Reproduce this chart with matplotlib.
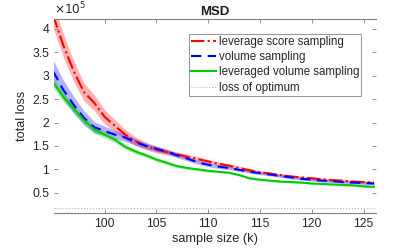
import numpy as np
import matplotlib
matplotlib.use("Agg")
import matplotlib.pyplot as plt

plt.rcParams['font.family'] = ['Liberation Sans', 'DejaVu Sans']

# sample size (k)
k = list(range(95, 127))
# total loss, in units of 1e5
lev_mean = [4.30, 3.65, 3.10, 2.65, 2.42, 2.12, 1.93, 1.74, 1.60, 1.50, 1.42, 1.37, 1.32, 1.27,
            1.22, 1.17, 1.12, 1.08, 1.03, 0.98, 0.94, 0.91, 0.88, 0.85, 0.83, 0.81, 0.79, 0.77,
            0.76, 0.74, 0.73, 0.72]
lev_sd = [0.26, 0.25, 0.22, 0.19, 0.17, 0.15, 0.13, 0.11, 0.09, 0.08, 0.07, 0.06, 0.05, 0.05,
          0.05, 0.04, 0.04, 0.04, 0.04, 0.04, 0.03, 0.03, 0.03, 0.03, 0.03, 0.03, 0.03, 0.03,
          0.03, 0.03, 0.03, 0.03]
vol_mean = [3.10, 2.70, 2.38, 2.10, 1.90, 1.82, 1.74, 1.68, 1.58, 1.50, 1.44, 1.38, 1.30, 1.23,
            1.15, 1.10, 1.06, 1.03, 0.99, 0.95, 0.92, 0.89, 0.86, 0.83, 0.80, 0.78, 0.76, 0.75,
            0.73, 0.72, 0.71, 0.70]
vol_sd = [0.24, 0.21, 0.18, 0.15, 0.12, 0.10, 0.09, 0.08, 0.07, 0.06, 0.06, 0.05, 0.05, 0.05,
          0.04, 0.04, 0.04, 0.04, 0.03, 0.03, 0.03, 0.03, 0.03, 0.03, 0.03, 0.03, 0.03, 0.03,
          0.03, 0.03, 0.03, 0.03]
lvs_mean = [2.86, 2.55, 2.30, 2.05, 1.85, 1.74, 1.63, 1.48, 1.38, 1.30, 1.21, 1.14, 1.07, 1.03,
            1.00, 0.97, 0.95, 0.93, 0.88, 0.81, 0.78, 0.76, 0.74, 0.73, 0.72, 0.70, 0.69, 0.68,
            0.67, 0.66, 0.64, 0.63]
lvs_sd = [0.11, 0.10, 0.09, 0.08, 0.08, 0.07, 0.06, 0.05, 0.05, 0.04, 0.04, 0.04, 0.03, 0.03,
          0.03, 0.03, 0.02, 0.02, 0.02, 0.02, 0.02, 0.02, 0.02, 0.02, 0.02, 0.02, 0.02, 0.02,
          0.02, 0.02, 0.02, 0.02]
optimum = 0.18

series_labels = ["leverage score sampling", "volume sampling",
                 "leveraged volume sampling", "loss of optimum"]
y_ticks = [0.5, 1, 1.5, 2, 2.5, 3, 3.5, 4]
x_ticks = [100, 105, 110, 115, 120, 125]

fig = plt.figure(figsize=(4.15, 2.49), dpi=100)
ax = fig.add_axes([0.130, 0.1446, 0.776, 0.779])

x = np.array(k)
def band(m, s, col):
    m = np.array(m); s = np.array(s)
    ax.fill_between(x, m - s, m + s, color=col, alpha=0.3, linewidth=0)

band(lev_mean, lev_sd, (1, 0, 0))
band(vol_mean, vol_sd, (0, 0, 1))
band(lvs_mean, lvs_sd, (0, 0.8, 0))

l1, = ax.plot(x, lev_mean, color=(1, 0, 0), linestyle='-.', linewidth=1.5)
l2, = ax.plot(x, vol_mean, color=(0, 0, 1), linestyle=(0, (5, 3)), linewidth=1.5)
l3, = ax.plot(x, lvs_mean, color=(0, 0.8, 0), linestyle='-', linewidth=1.5)
l4 = ax.axhline(optimum, color='0.7', linestyle=':', linewidth=0.8)

ax.set_xlim(95.1, 126.2)
ax.set_ylim(0.07, 4.21)
ax.set_xticks(x_ticks)
ax.set_yticks(y_ticks)
ax.set_yticklabels([('%g' % v) for v in y_ticks])

for s in ['left', 'right']:
    ax.spines[s].set_visible(False)
for s in ['top', 'bottom']:
    ax.spines[s].set_color('0.5')
    ax.spines[s].set_linewidth(0.8)
ax.tick_params(direction='in', length=3, width=0.6, color='0.5', labelcolor='0.15',
               labelsize=8.7, top=True, right=True, left=True)

ax.set_title("MSD", fontsize=9.5, fontweight='bold', pad=3, color='0.1')
ax.set_xlabel("sample size (k)", fontsize=9.2, color='0.15', labelpad=2)
ax.set_ylabel("total loss", fontsize=9.2, color='0.15', labelpad=3)
ax.text(0.0, 1.01, r"$\times10^5$", transform=ax.transAxes, fontsize=8.7,
        color='0.15', ha='left', va='bottom')

leg = ax.legend([l1, l2, l3, l4], series_labels, loc='upper right',
                bbox_to_anchor=(0.955, 0.925), fontsize=8.3, frameon=True, fancybox=False,
                handlelength=2.2, handletextpad=0.2, borderpad=0.2, labelspacing=0.28,
                borderaxespad=0)
leg.get_frame().set_edgecolor('0.4')
leg.get_frame().set_linewidth(0.6)
for t in leg.get_texts():
    t.set_color('0.15')

fig.savefig("out.png", dpi=100)
